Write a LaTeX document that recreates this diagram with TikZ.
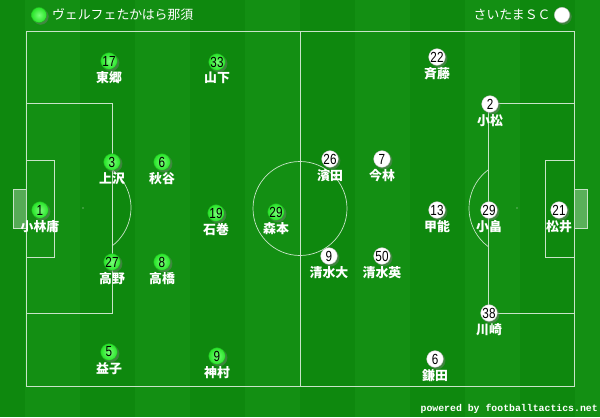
\documentclass[tikz,border=0pt]{standalone}
\usepackage{fontspec}
\setmainfont{Noto Sans CJK JP}
\newfontfamily\numFont[FakeStretch=0.8]{Liberation Sans}
\newfontfamily\creditFont{Liberation Mono}
\usetikzlibrary{positioning}
\usetikzlibrary{shadows}
\definecolor{grassGreen}{RGB}{14,136,14}
\definecolor{grassLight}{RGB}{19,143,19}
\definecolor{homeInner}{RGB}{120,255,120}
\definecolor{homeOuter}{RGB}{40,228,40}
\definecolor{pitchLine}{RGB}{200,228,200}
\newcommand{\homePlayer}[4]{%%
  \node[homeStyle] (#1) at (#2) {#3};
  \node[nameStyle,below=0.04cm of #1] (#1Name) {#4};
}
\newcommand{\awayPlayer}[4]{%%
  \node[awayStyle] (#1) at (#2) {#3};
  \node[nameStyle,below=0.04cm of #1] (#1Name) {#4};
}

\begin{document}
\begin{tikzpicture}[%%
  x=0.03cm,y=-0.03cm,%%
  lineStyle/.style={draw=pitchLine,line width=0.6pt},%%
  goalStyle/.style={draw=pitchLine,line width=0.6pt,fill=white,fill opacity=0.3},%%
  discStyle/.style={circle,minimum size=0.5cm,inner sep=0pt,font=\numFont\fontsize{12.5}{13}\selectfont,text=black,%%
    circular drop shadow={shadow xshift=0.04cm,shadow yshift=-0.04cm,opacity=0.45}},%%
  homeStyle/.style={discStyle,inner color=homeInner,outer color=homeOuter,draw=homeOuter!75!black,line width=0.3pt},%%
  awayStyle/.style={discStyle,fill=white,draw=black!25,line width=0.3pt},%%
  nameStyle/.style={inner sep=0pt,text=white,font=\fontsize{11}{12}\selectfont\bfseries},%%
  teamStyle/.style={inner sep=0pt,text=white,font=\fontsize{11}{12}\selectfont},%%
  creditStyle/.style={inner sep=0pt,text=white,font=\creditFont\bfseries\fontsize{8.4}{9}\selectfont}
]
%%
%% The pitch.
\pgfmathsetmacro{\pitchLeft}{26}
\pgfmathsetmacro{\pitchRight}{574}
\pgfmathsetmacro{\pitchTop}{31}
\pgfmathsetmacro{\pitchBottom}{386}
\pgfmathsetmacro{\midX}{300}
\pgfmathsetmacro{\midY}{208.5}
%%
%% The grass.
\useasboundingbox (0,0) rectangle (600,417);
\fill[grassGreen] (0,0) rectangle (600,417);
\foreach \sx in {25,135,...,575}
  \fill[grassLight] (\sx,0) rectangle (\sx+55,417);
%%
%% The lines.
\draw[lineStyle] (\pitchLeft,\pitchTop) rectangle (\pitchRight,\pitchBottom);
\draw[lineStyle] (\midX,\pitchTop) -- (\midX,\pitchBottom);
\draw[lineStyle] (\midX,\midY) circle[radius=1.41cm];
\draw[lineStyle] (\pitchLeft,103) rectangle (112,313);
\draw[lineStyle] (\pitchLeft,160) rectangle (54,257);
\draw[goalStyle] (13,189) rectangle (\pitchLeft,228);
\draw[lineStyle] (112,246) arc[start angle=-52.8,end angle=52.8,radius=1.44cm];
\draw[lineStyle] (488,103) rectangle (\pitchRight,313);
\draw[lineStyle] (545,160) rectangle (\pitchRight,257);
\draw[goalStyle] (\pitchRight,189) rectangle (587,228);
\draw[lineStyle] (488,170) arc[start angle=127.2,end angle=232.8,radius=1.44cm];
\fill[pitchLine] (83,208) circle[radius=0.6pt];
\fill[pitchLine] (517,208) circle[radius=0.6pt];
%%
%% The teams.
\node[homeStyle,minimum size=0.46cm] (homeBadge) at (39,15) {};
\node[teamStyle,right=0.15cm of homeBadge] (homeTeam) {ヴェルフェたかはら那須};
\node[awayStyle,minimum size=0.46cm] (awayBadge) at (562,15) {};
\node[teamStyle,left=0.1cm of awayBadge] (awayTeam) {さいたまＳＣ};
%%
%% Home players.
\homePlayer{togo}{109,61}{17}{東郷}
\homePlayer{yamashita}{217,62}{33}{山下}
\homePlayer{uesawa}{112,162}{3}{上沢}
\homePlayer{akiya}{162,162}{6}{秋谷}
\homePlayer{kobayashi}{40,210}{1}{小林庸}
\homePlayer{ishimaki}{216,213}{19}{石巻}
\homePlayer{morimoto}{276,212}{29}{森本}
\homePlayer{takano}{112,262}{27}{高野}
\homePlayer{takahashi}{162,262}{8}{高橋}
\homePlayer{masuko}{109,352}{5}{益子}
\homePlayer{kamimura}{217,356}{9}{神村}
%%
%% Away players.
\awayPlayer{saito}{437,57}{22}{斉藤}
\awayPlayer{komatsu}{490,104}{2}{小松}
\awayPlayer{hamada}{330,159}{26}{濱田}
\awayPlayer{imabayashi}{382,159}{7}{今林}
\awayPlayer{kono}{437,210}{13}{甲能}
\awayPlayer{obata}{489,210}{29}{小畠}
\awayPlayer{matsui}{559,210}{21}{松井}
\awayPlayer{shimizuDai}{329,256}{9}{清水大}
\awayPlayer{shimizuEi}{382,256}{50}{清水英}
\awayPlayer{kawasaki}{489,313}{38}{川崎}
\awayPlayer{kamata}{435,359}{6}{鎌田}
%%
%% Credit.
\node[creditStyle,anchor=east] (credit) at (598,409) {powered by footballtactics.net};
\end{tikzpicture}
\end{document}
